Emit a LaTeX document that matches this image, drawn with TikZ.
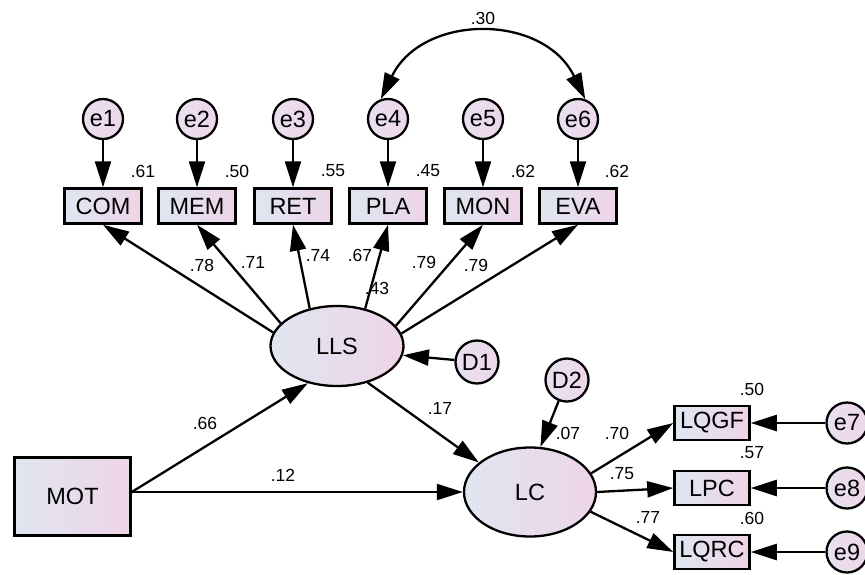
\documentclass[tikz,border=0pt]{standalone}
\usepackage{fontspec}
\setmainfont{Liberation Sans}
\usetikzlibrary{arrows.meta,shapes.geometric}
\definecolor{fillL}{RGB}{224,230,241}
\definecolor{fillR}{RGB}{238,212,231}
\definecolor{circL}{RGB}{232,224,240}
\definecolor{circR}{RGB}{238,214,233}
\begin{document}
\begin{tikzpicture}[x=1pt,y=1pt,
  obs/.style={draw=black, line width=2.5pt, left color=fillL, right color=fillR,
    minimum width=77pt, minimum height=35pt, inner sep=0pt,
    font=\fontsize{23.5}{23.5}\selectfont},
  lat/.style={ellipse, draw=black, line width=2.3pt, left color=fillL, right color=fillR,
    inner sep=0pt, font=\fontsize{23.5}{23.5}\selectfont},
  err/.style={circle, draw=black, line width=2.3pt, left color=circL, right color=circR,
    minimum size=40pt, inner sep=0pt, font=\fontsize{23.5}{23.5}\selectfont},
  lab/.style={font=\fontsize{17.5}{17.5}\selectfont, inner sep=0pt},
  arr/.style={line width=2.3pt, -{Triangle[length=26pt,width=16pt]}}]
\useasboundingbox (0,0) rectangle (865,-574);

% error terms of LLS indicators
\node[err] (e1) at (103,-119) {e1};
\node[err] (e2) at (197,-119) {e2};
\node[err] (e3) at (293,-119) {e3};
\node[err] (e4) at (388,-119) {e4};
\node[err] (e5) at (483,-119) {e5};
\node[err] (e6) at (578,-119) {e6};

% indicators
\node[obs] (COM) at (103,-206) {COM};
\node[obs] (MEM) at (197,-206) {MEM};
\node[obs] (RET) at (293,-206) {RET};
\node[obs] (PLA) at (388,-206) {PLA};
\node[obs] (MON) at (483,-206) {MON};
\node[obs] (EVA) at (578,-206) {EVA};

% latent variables
\node[lat, minimum width=133pt, minimum height=80pt] (LLS) at (337,-346) {LLS};
\node[lat, minimum width=132pt, minimum height=89pt] (LC) at (530,-492) {LC};
\node[err, minimum size=43pt] (D1) at (477,-362) {D1};
\node[err, minimum size=43pt] (D2) at (567,-380) {D2};

% MOT
\node[obs, minimum width=116pt, minimum height=78pt] (MOT) at (72.5,-496.5) {MOT};
\coordinate (m) at (MOT.east |- LC.west);

% LC indicators
\node[obs, minimum width=75pt, minimum height=34pt] (LQGF) at (712,-423) {LQGF};
\node[obs, minimum width=75pt, minimum height=34pt] (LPC) at (712,-488) {LPC};
\node[obs, minimum width=75pt, minimum height=34pt] (LQRC) at (712,-552) {LQRC};
\node[err, minimum size=41pt] (e7) at (847,-423) {e7};
\node[err, minimum size=41pt] (e8) at (847,-488) {e8};
\node[err, minimum size=41pt] (e9) at (847,-552) {e9};

% error arrows
\foreach \e/\b in {e1/COM,e2/MEM,e3/RET,e4/PLA,e5/MON,e6/EVA}
  \draw[arr] (\e) -- (\b);
\draw[arr] (e7) -- (LQGF.east);
\draw[arr] (e8) -- (LPC.east);
\draw[arr] (e9) -- (LQRC.east);

% covariance e4 <-> e6
\draw[line width=2.3pt, {Triangle[length=26pt,width=16pt]}-{Triangle[length=26pt,width=16pt]}]
  (e4.110) to[out=64,in=116,looseness=1.2] (e6.70);

% loadings
\draw[arr] (LLS.168) -- (COM.south);
\draw[arr] (LLS.158) -- (MEM.south);
\draw[arr] (LLS.126) -- (RET.south);
\draw[arr] (LLS.53) -- (PLA.south);
\draw[arr] (LLS.19) -- (MON.south);
\draw[arr] (LLS.11) -- (EVA.south);

\draw[arr] (D1) -- (LLS.-8);
\draw[arr] (D2) -- (LC.77);
\draw[arr] (LLS.-50) -- (LC.150);
\draw[arr] (m) -- (LLS.-128);
\draw[arr] (m) -- (LC.west);

\draw[arr] (LC.17) -- (LQGF.west);
\draw[arr] (LC.0) -- (LPC.west);
\draw[arr] (LC.-18) -- (LQRC.west);

% labels
\node[lab] (r1) at (143,-171) {.61};
\node[lab] (r2) at (237,-171) {.50};
\node[lab] (r3) at (333,-171) {.55};
\node[lab] (r4) at (428,-171) {.45};
\node[lab] (r5) at (523,-171) {.62};
\node[lab] (r6) at (617,-171) {.62};
\node[lab] (c46) at (483,-18) {.30};
\node[lab] (l1) at (202,-265) {.78};
\node[lab] (l2) at (253,-262) {.71};
\node[lab] (l3) at (318,-255) {.74};
\node[lab] (l4) at (360,-255) {.67};
\node[lab] (rl) at (377,-288) {.43};
\node[lab] (l5) at (424,-262) {.79};
\node[lab] (l6) at (476,-265) {.79};
\node[lab] (p1) at (440,-408) {.17};
\node[lab] (p2) at (205,-423) {.66};
\node[lab] (p3) at (283,-475) {.12};
\node[lab] (rc) at (568,-433) {.07};
\node[lab] (k1) at (617,-433) {.70};
\node[lab] (k2) at (622,-474) {.75};
\node[lab] (k3) at (648,-517) {.77};
\node[lab] (s1) at (752,-389) {.50};
\node[lab] (s2) at (752,-453) {.57};
\node[lab] (s3) at (752,-518) {.60};
\end{tikzpicture}
\end{document}
